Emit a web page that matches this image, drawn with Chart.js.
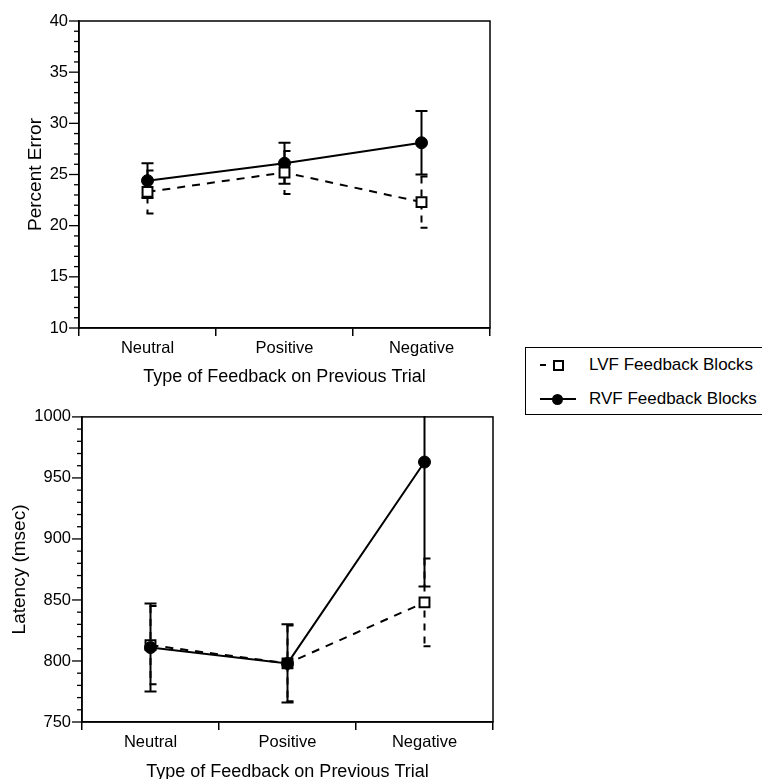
<!DOCTYPE html>
<html>
<head>
<meta charset="utf-8">
<script src="https://cdn.jsdelivr.net/npm/chart.js@4.4.0/dist/chart.umd.min.js"></script>
<style>
  html, body { margin: 0; padding: 0; background: #fff; overflow: hidden; width: 762px; height: 779px; }
  body { position: relative; font-family: 'Liberation Sans', Arial, Helvetica, sans-serif; color: #000; }
  #errorChart { position: absolute; left: 0; top: 0; }
  #latencyChart { position: absolute; left: 0; top: 396px; }
  .legend { position: absolute; left: 525px; top: 347px; width: 260px; height: 66px; border: 1.5px solid #000; }
  .row { position: absolute; left: 0; height: 20px; width: 100%; }
  .row span { position: absolute; left: 63px; top: 0; font-size: 17px; line-height: 20px; white-space: nowrap; }
  .dash { position: absolute; left: 14px; top: 9px; width: 6px; height: 2px; background: #000; }
  .sq { position: absolute; left: 27px; top: 5px; width: 7px; height: 7px; border: 2px solid #000; background: #fff; }
  .line { position: absolute; left: 14px; top: 9px; width: 36px; height: 2px; background: #000; }
  .dot { position: absolute; left: 26px; top: 5px; width: 11px; height: 11px; border-radius: 50%; background: #000; }
</style>
</head>
<body>
<canvas id="errorChart" width="520" height="396"></canvas>
<canvas id="latencyChart" width="520" height="395"></canvas>
<div class="legend">
  <div class="row" style="top:7px"><div class="dash"></div><div class="sq"></div><span>LVF Feedback Blocks</span></div>
  <div class="row" style="top:41px"><div class="line"></div><div class="dot"></div><span>RVF Feedback Blocks</span></div>
</div>
<script>
var categories = ['Neutral', 'Positive', 'Negative'];

// percent error (top panel)
var errorLVF = [23.3, 25.2, 22.3];
var errorLVFse = [2.1, 2.1, 2.5];
var errorRVF = [24.4, 26.1, 28.1];
var errorRVFse = [1.7, 2.0, 3.1];

// latency in msec (bottom panel)
var latencyLVF = [813, 798, 848];
var latencyLVFse = [32, 31, 36];
var latencyRVF = [811, 798, 963];
var latencyRVFse = [36, 32, 102];

Chart.defaults.font.family = "'Liberation Sans', Arial, Helvetica, sans-serif";
Chart.defaults.color = '#000';

// error bars, drawn under the lines and markers
var errorBars = {
  id: 'errorBars',
  beforeDatasetsDraw: function (chart) {
    var ctx = chart.ctx;
    var area = chart.chartArea;
    var yScale = chart.scales.y;
    ctx.save();
    ctx.beginPath();
    ctx.rect(area.left, area.top - 1, area.right - area.left, area.bottom - area.top + 2);
    ctx.clip();
    ctx.strokeStyle = '#000';
    chart.data.datasets.forEach(function (ds, i) {
      var meta = chart.getDatasetMeta(i);
      var dashed = !!ds.borderDash;
      meta.data.forEach(function (pt, j) {
        var v = ds.data[j];
        var e = ds.errors[j];
        var x = pt.x;
        var yTop = yScale.getPixelForValue(v + e);
        var yBot = yScale.getPixelForValue(v - e);
        // dashed (LVF) caps stick out to the right only
        var c0 = dashed ? x - 1 : x - 6;
        var c1 = dashed ? x + 6 : x + 6;
        ctx.lineWidth = 2;
        ctx.setLineDash(dashed ? [7, 6] : []);
        ctx.beginPath();
        ctx.moveTo(x, yTop);
        ctx.lineTo(x, yBot);
        ctx.stroke();
        ctx.setLineDash([]);
        ctx.beginPath();
        ctx.moveTo(c0, yTop);
        ctx.lineTo(c1, yTop);
        ctx.moveTo(c0, yBot);
        ctx.lineTo(c1, yBot);
        ctx.stroke();
      });
    });
    ctx.restore();
  }
};

// minor / major ticks on the value axis and the closed frame
var frameTicks = {
  id: 'frameTicks',
  afterDraw: function (chart, args, opts) {
    var ctx = chart.ctx;
    var s = chart.scales.y;
    var a = chart.chartArea;
    ctx.save();
    ctx.strokeStyle = '#000';
    ctx.lineWidth = 1.3;
    for (var v = s.min; v <= s.max + 1e-9; v += opts.minor) {
      var p = s.getPixelForValue(v);
      var isMajor = Math.abs(v / opts.major - Math.round(v / opts.major)) < 1e-6;
      var len = isMajor ? 10 : 5;
      ctx.beginPath();
      ctx.moveTo(a.left - len, p);
      ctx.lineTo(a.left, p);
      ctx.stroke();
    }
    ctx.lineWidth = 1.5;
    ctx.strokeRect(a.left, a.top, a.right - a.left, a.bottom - a.top);
    ctx.restore();
  }
};

function makeChart(id, lvf, lvfSe, rvf, rvfSe, opt) {
  return new Chart(document.getElementById(id).getContext('2d'), {
    type: 'line',
    data: {
      labels: categories,
      datasets: [{
        label: 'LVF Feedback Blocks',
        data: lvf,
        errors: lvfSe,
        order: opt.lvfOrder,
        borderColor: '#000',
        borderWidth: 2,
        borderDash: [8, 7],
        pointStyle: 'rect',
        pointRadius: 7,
        pointBackgroundColor: '#fff',
        pointBorderColor: '#000',
        pointBorderWidth: 2,
        fill: false,
        tension: 0
      }, {
        label: 'RVF Feedback Blocks',
        data: rvf,
        errors: rvfSe,
        order: opt.rvfOrder,
        borderColor: '#000',
        borderWidth: 2,
        pointStyle: 'circle',
        pointRadius: 6,
        pointBackgroundColor: '#000',
        pointBorderColor: '#000',
        pointBorderWidth: 1,
        fill: false,
        tension: 0
      }]
    },
    options: {
      responsive: false,
      animation: false,
      layout: { padding: { top: opt.padTop, right: opt.padRight, left: 0, bottom: 0 } },
      scales: {
        x: {
          type: 'category',
          offset: true,
          grid: { offset: true, drawOnChartArea: false, drawTicks: true, tickLength: 8, color: '#000', lineWidth: 1.5 },
          border: { display: true, color: '#000', width: 1.5 },
          ticks: { color: '#000', font: { size: 16.5 }, padding: 3, maxRotation: 0 },
          title: { display: true, text: 'Type of Feedback on Previous Trial', color: '#000', font: { size: 18 }, padding: { top: 0, bottom: 8 } },
          afterFit: function (s) { s.height = opt.xHeight; }
        },
        y: {
          min: opt.min,
          max: opt.max,
          ticks: {
            stepSize: opt.major, color: '#000', font: { size: 16.5 }, padding: 11,
            callback: function (value) { return String(value); }
          },
          grid: { drawOnChartArea: false, drawTicks: false },
          border: { display: true, color: '#000', width: 1.5 },
          title: { display: true, text: opt.yTitle, color: '#000', font: { size: 19 }, padding: { top: opt.titlePad, bottom: 0 } },
          afterFit: function (s) { s.width = opt.yWidth; }
        }
      },
      plugins: {
        legend: { display: false },
        tooltip: { enabled: false },
        frameTicks: { minor: opt.minor, major: opt.major }
      }
    },
    plugins: [errorBars, frameTicks]
  });
}

makeChart('errorChart', errorLVF, errorLVFse, errorRVF, errorRVFse, {
  min: 10, max: 40, major: 5, minor: 1, yTitle: 'Percent Error',
  padTop: 21, padRight: 30, xHeight: 68, yWidth: 79, titlePad: 24,
  lvfOrder: 0, rvfOrder: 1
});

makeChart('latencyChart', latencyLVF, latencyLVFse, latencyRVF, latencyRVFse, {
  min: 750, max: 1000, major: 50, minor: 10, yTitle: 'Latency (msec)',
  padTop: 20, padRight: 27, xHeight: 69, yWidth: 82, titlePad: 8,
  lvfOrder: 1, rvfOrder: 0
});
</script>
</body>
</html>
